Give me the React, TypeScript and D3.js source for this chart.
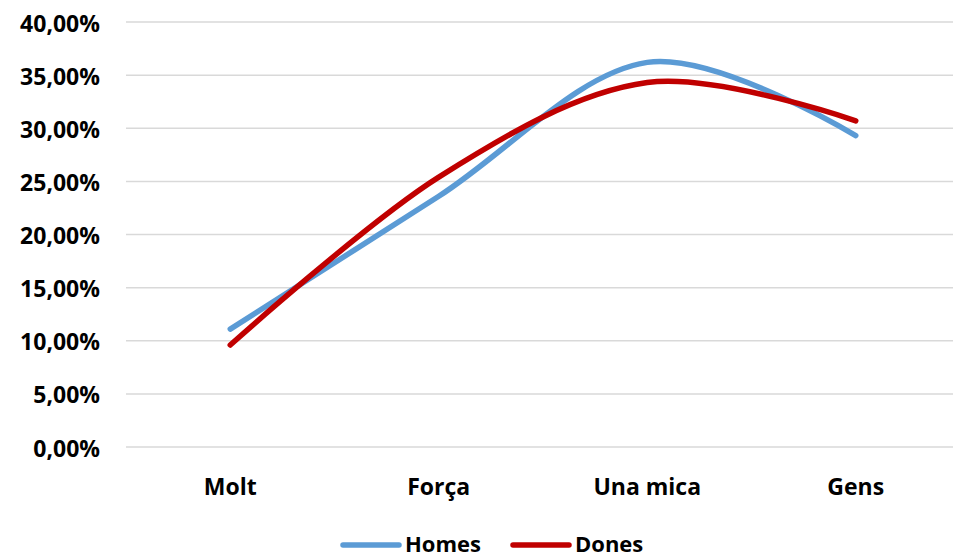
import React from "react";
import * as d3 from "d3";

const categories = ["Molt", "Força", "Una mica", "Gens"];
const homes = [11.1, 23.6, 36.2, 29.3];
const dones = [9.6, 25.4, 34.3, 30.7];
const yTicks = [0, 5, 10, 15, 20, 25, 30, 35, 40];
const seriesNames = ["Homes", "Dones"];
const seriesColors = ["#5B9BD5", "#C00000"];

const W = 953;
const H = 559;

export default function App() {
  const x = d3.scaleBand<string>().domain(categories).range([126, 960]);
  const y = d3.scaleLinear().domain([0, 40]).range([447, 22]);
  const line = d3
    .line<number>()
    .x((_, i) => (x(categories[i]) as number) + x.bandwidth() / 2)
    .y((d) => y(d))
    .curve(d3.curveCardinal.tension(0));
  const fmt = (v: number) => v.toFixed(2).replace(".", ",") + "%";
  const series = [homes, dones];
  const font = "'Open Sans', Lato, sans-serif";
  const legendX = [343, 513];
  return (
    <svg
      width={W}
      height={H}
      style={{ position: "absolute", left: 0, top: 0, background: "#fff" }}
      fontFamily={font}
      fontWeight="bold"
    >
      {yTicks.map((t) => (
        <g key={t}>
          <line x1={126} x2={953} y1={y(t)} y2={y(t)} stroke="#d9d9d9" strokeWidth={1.5} />
          <text x={100} y={y(t) + 9.5} textAnchor="end" fontSize={23} fill="#000">
            {fmt(t)}
          </text>
        </g>
      ))}
      {categories.map((c) => (
        <text
          key={c}
          x={(x(c) as number) + x.bandwidth() / 2}
          y={495}
          textAnchor="middle"
          fontSize={23}
          fill="#000"
        >
          {c}
        </text>
      ))}
      {series.map((s, i) => (
        <path
          key={i}
          d={line(s) as string}
          fill="none"
          stroke={seriesColors[i]}
          strokeWidth={5.5}
          strokeLinecap="round"
        />
      ))}
      {seriesNames.map((n, i) => {
        const x0 = legendX[i];
        return (
          <g key={n}>
            <line x1={x0} x2={x0 + 56} y1={545} y2={545} stroke={seriesColors[i]} strokeWidth={5.5} strokeLinecap="round" />
            <text x={x0 + 62} y={552} fontSize={22} fill="#000">
              {n}
            </text>
          </g>
        );
      })}
    </svg>
  );
}
